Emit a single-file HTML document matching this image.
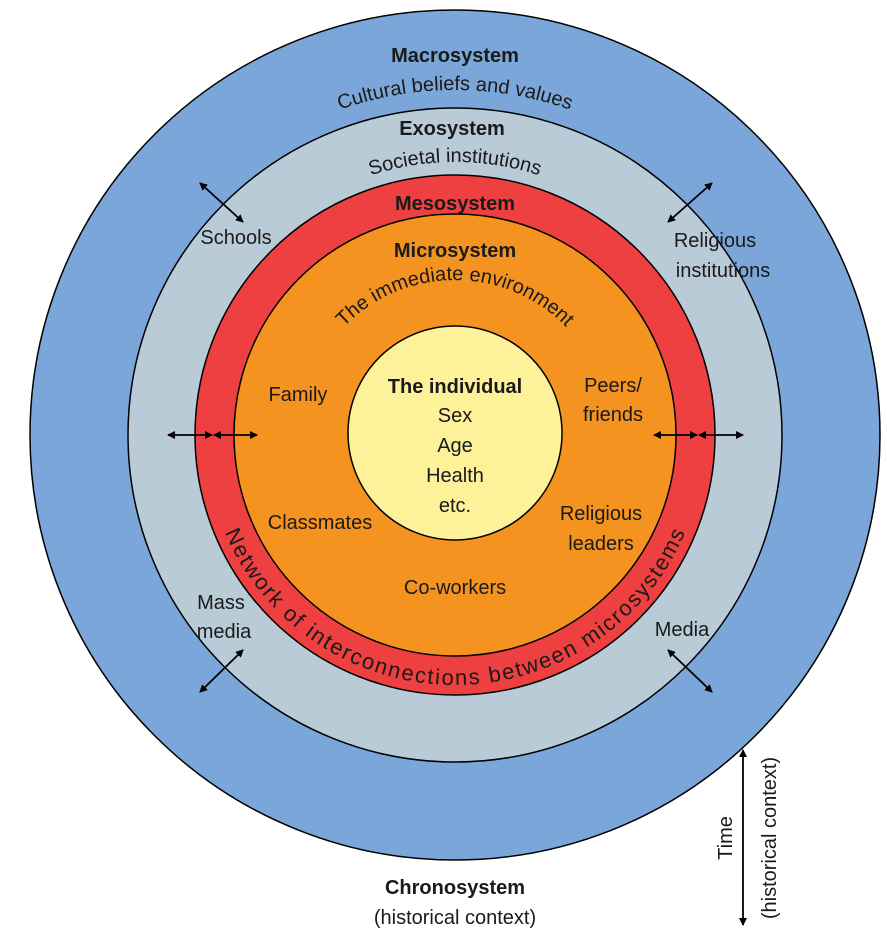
<!DOCTYPE html>
<html><head><meta charset="utf-8"><style>
html,body{margin:0;padding:0;background:#fff;}
svg{display:block;}
text{font-family:"Liberation Sans",sans-serif;fill:#1a1a1a;}
</style></head><body>
<svg width="887" height="945" viewBox="0 0 887 945" xmlns="http://www.w3.org/2000/svg">
<defs>
<marker id="a" markerWidth="8" markerHeight="8" refX="7" refY="4" orient="auto-start-reverse" markerUnits="userSpaceOnUse"><path d="M0,0 L8,4 L0,8 z" fill="#000"/></marker>
<path id="p1" d="M110,435 A345,345 0 0 1 800,435"/>
<path id="p2" d="M182,435 A273,273 0 0 1 728,435"/>
<path id="p3" d="M300,435 A155,155 0 0 1 610,435"/>
<path id="p4" d="M205,435 A250,250 0 0 0 705,435"/>
</defs>
<circle cx="455" cy="435" r="425" fill="#7ba6d9" stroke="#000" stroke-width="1.5"/>
<circle cx="455" cy="435" r="327" fill="#b9cbd6" stroke="#000" stroke-width="1.5"/>
<circle cx="455" cy="435" r="260" fill="#ee4040" stroke="#000" stroke-width="1.5"/>
<circle cx="455" cy="435" r="221" fill="#f4931f" stroke="#000" stroke-width="1.5"/>
<circle cx="455" cy="433" r="107" fill="#fdf29a" stroke="#000" stroke-width="1.5"/>

<text x="455" y="62" text-anchor="middle" font-size="20" font-weight="bold">Macrosystem</text>
<text font-size="20"><textPath href="#p1" startOffset="50%" text-anchor="middle">Cultural beliefs and values</textPath></text>
<text x="452" y="135" text-anchor="middle" font-size="20" font-weight="bold">Exosystem</text>
<text font-size="20"><textPath href="#p2" startOffset="50%" text-anchor="middle">Societal institutions</textPath></text>
<text x="455" y="210" text-anchor="middle" font-size="20" font-weight="bold">Mesosystem</text>
<text x="455" y="257" text-anchor="middle" font-size="20" font-weight="bold">Microsystem</text>
<text font-size="20"><textPath href="#p3" startOffset="50%" text-anchor="middle">The immediate environment</textPath></text>
<text font-size="22"><textPath href="#p4" startOffset="50%" text-anchor="middle" textLength="585" lengthAdjust="spacing">Network of interconnections between microsystems</textPath></text>

<g font-size="20" text-anchor="middle">
<text x="455" y="393" font-weight="bold">The individual</text>
<text x="455" y="422">Sex</text>
<text x="455" y="452">Age</text>
<text x="455" y="482">Health</text>
<text x="455" y="512">etc.</text>
<text x="298" y="401">Family</text>
<text x="613" y="392">Peers/</text>
<text x="613" y="421">friends</text>
<text x="320" y="529">Classmates</text>
<text x="601" y="520">Religious</text>
<text x="601" y="550">leaders</text>
<text x="455" y="594">Co-workers</text>
<text x="236" y="244">Schools</text>
<text x="715" y="247">Religious</text>
<text x="723" y="277">institutions</text>
<text x="221" y="609">Mass</text>
<text x="224" y="638">media</text>
<text x="682" y="636">Media</text>
<text x="455" y="894" font-weight="bold">Chronosystem</text>
<text x="455" y="924">(historical context)</text>
</g>
<text transform="translate(732,838) rotate(-90)" font-size="20" text-anchor="middle">Time</text>
<text transform="translate(776,838) rotate(-90)" font-size="20" text-anchor="middle">(historical context)</text>

<g stroke="#000" stroke-width="1.8" fill="none">
<line x1="200" y1="183" x2="243" y2="222" marker-start="url(#a)" marker-end="url(#a)"/>
<line x1="712" y1="183" x2="668" y2="222" marker-start="url(#a)" marker-end="url(#a)"/>
<line x1="200" y1="692" x2="243" y2="650" marker-start="url(#a)" marker-end="url(#a)"/>
<line x1="712" y1="692" x2="668" y2="650" marker-start="url(#a)" marker-end="url(#a)"/>
<line x1="168" y1="435" x2="212" y2="435" marker-start="url(#a)" marker-end="url(#a)"/>
<line x1="214" y1="435" x2="257" y2="435" marker-start="url(#a)" marker-end="url(#a)"/>
<line x1="654" y1="435" x2="697" y2="435" marker-start="url(#a)" marker-end="url(#a)"/>
<line x1="699" y1="435" x2="743" y2="435" marker-start="url(#a)" marker-end="url(#a)"/>
<line x1="743" y1="750" x2="743" y2="925" marker-start="url(#a)" marker-end="url(#a)"/>
</g>
</svg>
</body></html>
